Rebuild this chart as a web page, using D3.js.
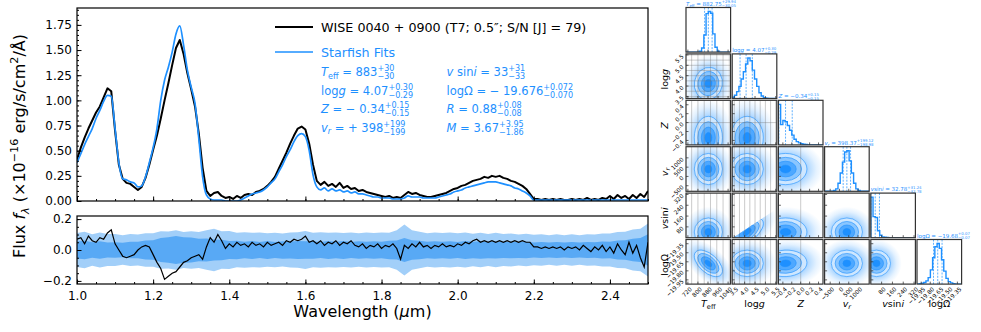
<!DOCTYPE html>
<html><head><meta charset="utf-8">
<script src="https://cdn.jsdelivr.net/npm/d3@7"></script>
<style>
body{margin:0;background:#fff}
svg{display:block}
text{font-family:"DejaVu Sans",sans-serif}
</style>
</head><body>
<svg id="chart" width="981" height="332"></svg>
<script>
// ---------------- DATA ----------------
const waveStart = 1.0, waveStep = 0.01;
const observedFlux = [0.41,0.53,0.63,0.72,0.80,0.88,0.94,1.03,1.12,1.09,0.70,0.36,0.22,0.18,0.17,0.14,0.11,0.14,0.23,0.36,
0.51,0.65,0.82,1.00,1.17,1.35,1.52,1.60,1.46,1.27,1.11,0.94,0.67,0.33,0.10,0.05,0.08,0.09,0.05,0.03,
0.04,0.02,0.05,0.03,0.06,0.07,0.06,0.09,0.10,0.12,0.15,0.19,0.24,0.32,0.40,0.48,0.57,0.65,0.72,0.74,
0.71,0.57,0.36,0.20,0.16,0.19,0.15,0.17,0.14,0.18,0.13,0.15,0.12,0.13,0.10,0.11,0.09,0.08,0.07,0.06,
0.05,0.04,0.05,0.03,0.04,0.03,0.06,0.09,0.07,0.08,0.06,0.05,0.04,0.04,0.05,0.06,0.07,0.08,0.10,0.12,
0.13,0.15,0.16,0.18,0.20,0.21,0.22,0.24,0.23,0.25,0.24,0.25,0.23,0.22,0.20,0.19,0.17,0.15,0.12,0.07,
0.02,0.02,0.01,0.02,0.01,0.02,0.01,0.02,0.01,0.01,0.02,0.01,0.02,0.01,0.03,0.01,0.02,0.01,0.03,0.02,
0.05,0.02,0.06,0.03,0.05,0.02,0.06,0.03,0.07,0.04,0.10];
const modelFlux = [0.38,0.47,0.56,0.64,0.72,0.82,0.90,0.99,1.05,1.04,0.72,0.38,0.22,0.21,0.19,0.18,0.14,0.15,0.24,0.38,
0.53,0.72,1.00,1.20,1.33,1.48,1.66,1.74,1.55,1.30,1.13,0.97,0.62,0.24,0.06,0.02,0.01,0.01,0.01,0.00,
0.00,0.00,0.00,0.01,0.03,0.05,0.07,0.08,0.09,0.11,0.14,0.18,0.22,0.29,0.36,0.44,0.51,0.59,0.65,0.67,
0.64,0.50,0.26,0.14,0.11,0.13,0.10,0.12,0.10,0.11,0.09,0.10,0.08,0.09,0.07,0.07,0.06,0.05,0.04,0.04,
0.03,0.03,0.03,0.02,0.02,0.02,0.03,0.05,0.04,0.04,0.04,0.03,0.03,0.03,0.03,0.04,0.05,0.06,0.07,0.09,
0.10,0.11,0.13,0.14,0.15,0.16,0.17,0.18,0.19,0.19,0.19,0.18,0.17,0.16,0.15,0.13,0.12,0.10,0.08,0.05,
0.01,0.01,0.01,0.01,0.01,0.01,0.01,0.01,0.01,0.01,0.01,0.01,0.01,0.01,0.01,0.01,0.01,0.01,0.01,0.01,
0.01,0.01,0.01,0.01,0.01,0.01,0.01,0.01,0.01,0.01,0.01];
const residualFlux = [0.07,0.08,0.04,0.09,0.06,0.05,0.08,0.07,0.11,0.13,0.04,0.00,-0.04,-0.05,-0.04,-0.03,0.00,0.02,0.03,0.02,
-0.03,-0.08,-0.12,-0.19,-0.17,-0.15,-0.14,-0.11,-0.08,-0.07,-0.05,-0.04,-0.03,-0.06,0.02,0.08,0.05,0.10,0.06,0.01,
0.04,0.02,0.05,0.03,0.04,0.02,0.05,0.03,0.04,0.02,0.05,0.03,0.04,0.05,0.03,0.06,0.05,0.07,0.06,0.07,
0.09,0.05,0.06,0.04,0.06,0.03,0.05,0.04,0.06,0.03,0.05,0.04,0.06,0.03,0.02,0.04,0.01,0.03,0.02,0.04,
0.01,0.03,0.02,0.04,0.01,-0.06,0.03,0.01,0.04,0.02,0.05,0.02,0.03,0.01,0.03,0.02,0.04,0.02,0.03,0.02,
0.04,0.03,0.05,0.04,0.06,0.07,0.05,0.06,0.05,0.06,0.05,0.06,0.05,0.06,0.05,0.06,0.05,0.06,0.05,0.05,
0.02,0.02,0.01,0.02,0.01,0.02,0.01,0.02,0.00,0.02,0.01,0.02,0.00,0.03,0.01,-0.01,0.02,0.00,0.03,-0.01,
0.02,-0.02,0.04,0.00,-0.03,0.05,-0.02,0.03,-0.05,-0.11,0.05];
const bandStart = 1.0, bandStep = 0.02;
const band1Sigma = [0.055,0.060,0.050,0.057,0.049,0.050,0.047,0.053,0.054,0.062,0.063,0.077,0.083,0.090,0.083,0.081,0.073,0.074,0.068,0.066,
0.058,0.060,0.053,0.059,0.052,0.058,0.051,0.057,0.055,0.059,0.056,0.057,0.052,0.058,0.053,0.059,0.052,0.057,0.054,0.056,
0.053,0.060,0.061,0.078,0.063,0.060,0.053,0.056,0.054,0.057,0.052,0.058,0.053,0.056,0.053,0.055,0.052,0.054,0.051,0.053,
0.049,0.051,0.048,0.052,0.048,0.051,0.049,0.052,0.050,0.055,0.054,0.062,0.063,0.072,0.078,0.102];
const band2Sigma = [0.110,0.118,0.102,0.113,0.103,0.104,0.096,0.103,0.100,0.108,0.108,0.121,0.119,0.128,0.117,0.121,0.117,0.128,0.138,0.122,
0.123,0.112,0.115,0.111,0.113,0.109,0.111,0.106,0.113,0.115,0.123,0.111,0.115,0.112,0.113,0.110,0.114,0.108,0.114,0.110,
0.114,0.112,0.128,0.165,0.127,0.118,0.109,0.113,0.110,0.113,0.109,0.113,0.105,0.112,0.104,0.111,0.103,0.107,0.101,0.105,
0.098,0.102,0.096,0.102,0.095,0.102,0.096,0.102,0.100,0.107,0.106,0.117,0.118,0.133,0.138,0.172];
const mainYTicks = [0,0.25,0.5,0.75,1.0,1.25,1.5,1.75];
const resYTicks = [-0.2,0.0,0.2];
const xTicks = [1.0,1.2,1.4,1.6,1.8,2.0,2.2,2.4];

// corner plot
const cornerLo = [705, 3.40, -0.50, -800, 0, -20.02];
const cornerHi = [1060, 5.55, 0.50, 1600, 330, -19.28];
const cornerTicks = [[720,800,880,960,1040],[3.5,4.0,4.5,5.0,5.5],[-0.4,-0.2,0.0,0.2,0.4],[-500,0,500,1000],[80,160,240,320],[-19.95,-19.80,-19.65,-19.50,-19.35]];
const cornerTickLabels = [["720","800","880","960","1040"],["3.5","4.0","4.5","5.0","5.5"],["−0.4","−0.2","0.0","0.2","0.4"],["−500","0","500","1000"],["80","160","240","320"],["−19.95","−19.80","−19.65","−19.50","−19.35"]];
const cornerCenter = [883, 4.12, -0.34, 398, 42, -19.676];
const cornerSigma = [56, 0.39, 0.24, 420, 52, 0.11];
const cornerCorr = [[0,5,-0.55],[1,4,0.6],[0,1,0.05],[2,5,0.05]];
const q16 = [852.8, 3.78, -0.49, 199.4, 0.5, -19.746];
const q50 = [882.75, 4.07, -0.34, 398.37, 32.78, -19.676];
const q84 = [912.7, 4.37, -0.19, 597.5, 64.0, -19.604];
const cornerTitleValue = ["882.75","4.07","−0.34","398.37","32.78","−19.68"];
const cornerTitlePlus = ["+29.94","+0.30","+0.15","+199.12","+31.24","+0.07"];
const cornerTitleMinus = ["−30.05","−0.29","−0.15","−198.98","−32.78","−0.07"];
const histTeff = [0,0,0,0,0,0,0.02,0.1,0.42,0.95,1.0,0.96,0.45,0.12,0.02,0,0,0,0,0];
const histLogg = [0.03,0.08,0.17,0.3,0.48,0.66,0.85,1.0,0.93,0.7,0.48,0.3,0.14,0.06,0.02,0.01,0,0,0,0];
const histZ = [1.0,0.5,0.6,0.57,0.48,0.36,0.24,0.14,0.08,0.05,0.03,0.015,0.01,0,0,0,0,0,0,0];
const histVr = [0,0,0,0,0.02,0.06,0.2,0.45,0.72,0.97,1.0,0.75,0.45,0.2,0.06,0.02,0,0,0,0];
const histVsini = [1.0,0.52,0.5,0.17,0.06,0.02,0.01,0.005,0,0,0,0,0,0,0,0,0,0,0,0];
const histLogOmega = [0,0.01,0.02,0.04,0.08,0.16,0.35,0.65,0.92,1.0,0.88,0.6,0.32,0.14,0.06,0.03,0.01,0,0,0];
const cornerHists = [histTeff, histLogg, histZ, histVr, histVsini, histLogOmega];
const teffGrid = [750,800,850,900,950,1000,1050];
const loggGrid = [3.5,3.75,4.0,4.25,4.5,4.75,5.0,5.25,5.5];
const zGrid = [0.0];
const cornerGrid = [teffGrid, loggGrid, zGrid, [], [], []];
const vsiniWedgeLogg = [3.45, 5.55];
const vsiniWedgeTop = [0, 215];
const contourLevels = [2.0, 1.5, 1.0, 0.5];
const contourAlpha = [0.22, 0.38, 0.55, 1.0];

// ---------------- DRAWING ----------------
const BLUE = "#1e90ff";
const svg = d3.select("#chart");
const defs = svg.append("defs");

function drawMath(parent, x, y, runs, fs, color) {
  let cx = x;
  runs.forEach(r => {
    if (r.pm) {
      const a = parent.append("text").attr("x", cx).attr("y", y - fs * 0.42).attr("font-size", fs * 0.7).attr("fill", color).text(r.pm[0]);
      const b = parent.append("text").attr("x", cx).attr("y", y + fs * 0.3).attr("font-size", fs * 0.7).attr("fill", color).text(r.pm[1]);
      cx += Math.max(a.node().getComputedTextLength(), b.node().getComputedTextLength());
    } else {
      const isSub = r.sub != null, isSup = r.sup != null;
      const txt = isSub ? r.sub : isSup ? r.sup : r.t;
      const fsz = (isSub || isSup) ? fs * 0.7 : fs;
      const yy = isSub ? y + fs * 0.22 : isSup ? y - fs * 0.42 : y;
      const t = parent.append("text").attr("x", cx).attr("y", yy).attr("font-size", fsz).attr("fill", color)
        .attr("xml:space", "preserve").style("white-space", "pre")
        .attr("font-style", r.it ? "italic" : "normal").text(txt);
      cx += t.node().getComputedTextLength();
    }
  });
  return cx - x;
}
function centeredMath(parent, cx, cy, runs, fs, color, rotate) {
  const g = parent.append("g").attr("transform", `translate(${cx},${cy})` + (rotate ? ` rotate(${rotate})` : ""));
  const inner = g.append("g");
  const w = drawMath(inner, 0, 0, runs, fs, color);
  inner.attr("transform", `translate(${-w / 2},0)`);
}

const wave = observedFlux.map((_, i) => +(waveStart + i * waveStep).toFixed(2));
const bandWave = band1Sigma.map((_, i) => +(bandStart + i * bandStep).toFixed(2));

const x = d3.scaleLinear().domain([1.0, 2.5]).range([77, 648]);
const yMain = d3.scaleLinear().domain([0, 1.918]).range([201, 8]);
const yRes = d3.scaleLinear().domain([-0.22, 0.22]).range([284, 216]);

defs.append("clipPath").attr("id", "clipMain").append("rect").attr("x", 77).attr("y", 8).attr("width", 571).attr("height", 193);
defs.append("clipPath").attr("id", "clipRes").append("rect").attr("x", 77).attr("y", 216).attr("width", 571).attr("height", 68);

// residual panel
const gRes = svg.append("g").attr("clip-path", "url(#clipRes)");
gRes.append("path").datum(bandWave.map((w, i) => [w, band2Sigma[i]]))
  .attr("fill", "#a2cff9")
  .attr("d", d3.area().x(d => x(d[0])).y0(d => yRes(-d[1])).y1(d => yRes(d[1])));
gRes.append("path").datum(bandWave.map((w, i) => [w, band1Sigma[i]]))
  .attr("fill", "#58a9f5")
  .attr("d", d3.area().x(d => x(d[0])).y0(d => yRes(-d[1])).y1(d => yRes(d[1])));
gRes.append("path").datum(wave.map((w, i) => [w, residualFlux[i]]))
  .attr("fill", "none").attr("stroke", "#000").attr("stroke-width", 1.2)
  .attr("d", d3.line().x(d => x(d[0])).y(d => yRes(d[1])));

// main panel
const gMain = svg.append("g").attr("clip-path", "url(#clipMain)");
gMain.append("path").datum(wave.map((w, i) => [w, observedFlux[i]]))
  .attr("fill", "none").attr("stroke", "#000").attr("stroke-width", 2).attr("stroke-linejoin", "round")
  .attr("d", d3.line().x(d => x(d[0])).y(d => yMain(d[1])));
gMain.append("path").datum(wave.map((w, i) => [w, modelFlux[i]]))
  .attr("fill", "none").attr("stroke", BLUE).attr("stroke-width", 1.7).attr("stroke-linejoin", "round")
  .attr("d", d3.line().curve(d3.curveMonotoneX).x(d => x(d[0])).y(d => yMain(d[1])));

// axes
function axis(gen, scale, vals, size, fmt, pad) {
  return gen(scale).tickValues(vals).tickSize(-size).tickPadding(pad).tickFormat(fmt);
}
function styleAxis(g) {
  g.select(".domain").remove();
  g.selectAll("text").attr("font-size", 12).attr("font-family", "DejaVu Sans").attr("fill", "#000");
  g.selectAll("line").attr("stroke", "#000").attr("stroke-width", 1);
}
const minorX = d3.range(1.0, 2.5001, 0.05);
svg.append("g").attr("transform", "translate(0,201)").call(axis(d3.axisBottom, x, minorX, 2, "", 0)).call(styleAxis);
svg.append("g").attr("transform", "translate(0,201)").call(axis(d3.axisBottom, x, xTicks, 4.5, "", 0)).call(styleAxis);
svg.append("g").attr("transform", "translate(0,284)").call(axis(d3.axisBottom, x, minorX, 2, "", 0)).call(styleAxis);
svg.append("g").attr("transform", "translate(0,284)").call(axis(d3.axisBottom, x, xTicks, 4.5, d3.format(".1f"), 7)).call(styleAxis);
svg.append("g").attr("transform", "translate(77,0)").call(axis(d3.axisLeft, yMain, d3.range(0, 1.91, 0.05), 2, "", 0)).call(styleAxis);
svg.append("g").attr("transform", "translate(77,0)").call(axis(d3.axisLeft, yMain, mainYTicks, 4.5, d3.format(".2f"), 5)).call(styleAxis);
svg.append("g").attr("transform", "translate(77,0)").call(axis(d3.axisLeft, yRes, d3.range(-0.2, 0.2001, 0.05), 2, "", 0)).call(styleAxis);
svg.append("g").attr("transform", "translate(77,0)").call(axis(d3.axisLeft, yRes, resYTicks, 4.5, d3.format(".1f"), 5)).call(styleAxis);

svg.append("rect").attr("x", 77).attr("y", 8).attr("width", 571).attr("height", 193).attr("fill", "none").attr("stroke", "#000").attr("stroke-width", 1.2);
svg.append("rect").attr("x", 77).attr("y", 216).attr("width", 571).attr("height", 68).attr("fill", "none").attr("stroke", "#000").attr("stroke-width", 1.2);

// axis labels
centeredMath(svg, 362.5, 317, [{t: "Wavelength ("}, {t: "μ", it: 1}, {t: "m)"}], 16, "#000");
centeredMath(svg, 25, 146, [{t: "Flux "}, {t: "f", it: 1}, {sub: "λ", it: 1}, {t: " (×10"}, {sup: "−16"}, {t: " erg/s/cm"}, {sup: "2"}, {t: "/Å)"}], 16, "#000", -90);

// legend
svg.append("line").attr("x1", 275).attr("x2", 313).attr("y1", 27).attr("y2", 27).attr("stroke", "#000").attr("stroke-width", 2);
svg.append("line").attr("x1", 275).attr("x2", 313).attr("y1", 52).attr("y2", 52).attr("stroke", BLUE).attr("stroke-width", 1.7);
drawMath(svg, 321, 31.5, [{t: "WISE 0040 + 0900 (T7; 0.5″; S/N [J] = 79)"}], 12.7, "#000");
drawMath(svg, 321, 56.5, [{t: "Starfish Fits"}], 12.7, BLUE);
const FS = 11.5;
drawMath(svg, 321, 76, [{t: "T", it: 1}, {sub: "eff"}, {t: " = 883"}, {pm: ["+30", "−30"]}], FS, BLUE);
drawMath(svg, 321, 94.5, [{t: "log"}, {t: "g", it: 1}, {t: " = 4.07"}, {pm: ["+0.30", "−0.29"]}], FS, BLUE);
drawMath(svg, 321, 113, [{t: "Z", it: 1}, {t: " = − 0.34"}, {pm: ["+0.15", "−0.15"]}], FS, BLUE);
drawMath(svg, 321, 131.5, [{t: "v", it: 1}, {sub: "r", it: 1}, {t: " = + 398"}, {pm: ["+199", "−199"]}], FS, BLUE);
drawMath(svg, 446.5, 76, [{t: "v", it: 1}, {t: " sin"}, {t: "i", it: 1}, {t: " = 33"}, {pm: ["+31", "−33"]}], FS, BLUE);
drawMath(svg, 446.5, 94.5, [{t: "logΩ = − 19.676"}, {pm: ["+0.072", "−0.070"]}], FS, BLUE);
drawMath(svg, 446.5, 113, [{t: "R", it: 1}, {t: " = 0.88"}, {pm: ["+0.08", "−0.08"]}], FS, BLUE);
drawMath(svg, 446.5, 131.5, [{t: "M", it: 1}, {t: " = 3.67"}, {pm: ["+3.95", "−1.86"]}], FS, BLUE);

// ---------------- CORNER ----------------
const cLeft = 686, cTop = 7.5, stepX = 46.2, stepY = 46.4, cell = 44.6;
const labelRuns = [
  [{t: "T", it: 1}, {sub: "eff"}],
  [{t: "log"}, {t: "g", it: 1}],
  [{t: "Z", it: 1}],
  [{t: "v", it: 1}, {sub: "r", it: 1}],
  [{t: "v", it: 1}, {t: "sin"}, {t: "i", it: 1}],
  [{t: "logΩ"}]
];
function sxOf(j) { const l = cLeft + j * stepX; return d3.scaleLinear().domain([cornerLo[j], cornerHi[j]]).range([l, l + cell]); }
function syOf(i) { const t = cTop + i * stepY; return d3.scaleLinear().domain([cornerLo[i], cornerHi[i]]).range([t + cell, t]); }
function corrOf(a, b) {
  const f = cornerCorr.find(c => (c[0] === a && c[1] === b) || (c[0] === b && c[1] === a));
  return f ? f[2] : 0;
}
const grad = defs.append("radialGradient").attr("id", "halo");
[[0, 0.55], [0.5, 0.45], [0.62, 0.3], [0.8, 0.12], [1, 0]].forEach(s =>
  grad.append("stop").attr("offset", s[0]).attr("stop-color", BLUE).attr("stop-opacity", s[1]));

const gc = svg.append("g");
for (let i = 0; i < 6; i++) {
  for (let j = 0; j <= i; j++) {
    const left = cLeft + j * stepX, top = cTop + i * stepY;
    const sx = sxOf(j);
    const cid = `cp${i}${j}`;
    const clip = defs.append("clipPath").attr("id", cid);
    clip.append("rect").attr("x", left).attr("y", top).attr("width", cell).attr("height", cell);
    const g = gc.append("g");
    const inner = g.append("g").attr("clip-path", `url(#${cid})`);
    if (i === j) {
      const h = cornerHists[i];
      const bw = (cornerHi[i] - cornerLo[i]) / h.length;
      const hy = d3.scaleLinear().domain([0, 1.1 * d3.max(h)]).range([top + cell, top]);
      const pts = [[cornerLo[i], 0]];
      h.forEach((c, k) => { pts.push([cornerLo[i] + k * bw, c]); pts.push([cornerLo[i] + (k + 1) * bw, c]); });
      pts.push([cornerHi[i], 0]);
      inner.append("path").datum(pts).attr("fill", "none").attr("stroke", BLUE).attr("stroke-width", 1.4)
        .attr("d", d3.line().x(d => sx(d[0])).y(d => hy(d[1])));
      [q16[i], q50[i], q84[i]].forEach(q => inner.append("line").attr("x1", sx(q)).attr("x2", sx(q))
        .attr("y1", top).attr("y2", top + cell).attr("stroke", BLUE).attr("stroke-width", 0.7).attr("stroke-dasharray", "2,1.3"));
      drawMath(g, left, top - 2, labelRuns[i].concat([{t: " = " + cornerTitleValue[i]}, {pm: [cornerTitlePlus[i], cornerTitleMinus[i]]}]), 5.5, BLUE);
    } else {
      const sy = syOf(i);
      let area = inner;
      if (j === 1 && i === 4) {
        const wid = cid + "w";
        defs.append("clipPath").attr("id", wid).append("polygon")
          .attr("points", [[sx(vsiniWedgeLogg[0]), sy(vsiniWedgeTop[0])], [sx(vsiniWedgeLogg[1]), sy(vsiniWedgeTop[1])], [sx(vsiniWedgeLogg[1]), sy(0) + 2], [sx(vsiniWedgeLogg[0]), sy(0) + 2]].map(p => p.join(",")).join(" "));
        area = inner.append("g").attr("clip-path", `url(#${wid})`);
      }
      const a = cornerSigma[j] * Math.abs(sx(1) - sx(0));
      const b = cornerSigma[i] * Math.abs(sy(1) - sy(0));
      const r = corrOf(i, j);
      const c = -r * a * b;
      const T = a * a + b * b, D = a * a * b * b - c * c;
      const disc = Math.sqrt(Math.max(T * T / 4 - D, 0));
      const l1 = T / 2 + disc, l2 = T / 2 - disc;
      const ang = 0.5 * Math.atan2(2 * c, a * a - b * b) * 180 / Math.PI;
      const cx = sx(cornerCenter[j]), cy = sy(cornerCenter[i]);
      const eg = area.append("g").attr("transform", `translate(${cx},${cy}) rotate(${ang})`);
      eg.append("ellipse").attr("rx", 3.6 * Math.sqrt(l1)).attr("ry", 3.6 * Math.sqrt(l2)).attr("fill", "url(#halo)");
      eg.append("ellipse").attr("rx", 2 * Math.sqrt(l1)).attr("ry", 2 * Math.sqrt(l2)).attr("fill", "#fff");
      contourLevels.forEach((lv, k) => {
        eg.append("ellipse").attr("rx", lv * Math.sqrt(l1)).attr("ry", lv * Math.sqrt(l2))
          .attr("fill", BLUE).attr("fill-opacity", contourAlpha[k])
          .attr("stroke", BLUE).attr("stroke-width", 0.6);
      });
      cornerGrid[j].forEach(v => inner.append("line").attr("x1", sx(v)).attr("x2", sx(v)).attr("y1", top).attr("y2", top + cell)
        .attr("stroke", "#777").attr("stroke-opacity", 0.55).attr("stroke-width", 0.7));
      cornerGrid[i].forEach(v => inner.append("line").attr("y1", sy(v)).attr("y2", sy(v)).attr("x1", left).attr("x2", left + cell)
        .attr("stroke", "#777").attr("stroke-opacity", 0.55).attr("stroke-width", 0.7));
      cornerTicks[i].forEach(t => g.append("line").attr("x1", left).attr("x2", left + 2.5).attr("y1", sy(t)).attr("y2", sy(t)).attr("stroke", "#222").attr("stroke-width", 0.7));
      if (j === 0) {
        cornerTicks[i].forEach((t, k) => g.append("text").attr("transform", `translate(${left - 2},${sy(t) + 2}) rotate(-45)`)
          .attr("text-anchor", "end").attr("font-size", 5.8).attr("fill", "#000").text(cornerTickLabels[i][k]));
        centeredMath(g, 668, top + cell / 2 + 3, labelRuns[i], 9.5, "#000", -90);
      }
    }
    cornerTicks[j].forEach(t => g.append("line").attr("x1", sx(t)).attr("x2", sx(t)).attr("y1", top + cell).attr("y2", top + cell - 2.5).attr("stroke", "#222").attr("stroke-width", 0.7));
    if (i === 5) {
      cornerTicks[j].forEach((t, k) => g.append("text").attr("transform", `translate(${sx(t) + 2},${top + cell + 3}) rotate(-45)`)
        .attr("text-anchor", "end").attr("dy", "0.6em").attr("font-size", 5.8).attr("fill", "#000").text(cornerTickLabels[j][k]));
      centeredMath(g, left + cell / 2, 307, labelRuns[j], 9.5, "#000");
    }
    g.append("rect").attr("x", left).attr("y", top).attr("width", cell).attr("height", cell)
      .attr("fill", "none").attr("stroke", "#333").attr("stroke-width", 1.2);
  }
}
</script>
</body></html>
